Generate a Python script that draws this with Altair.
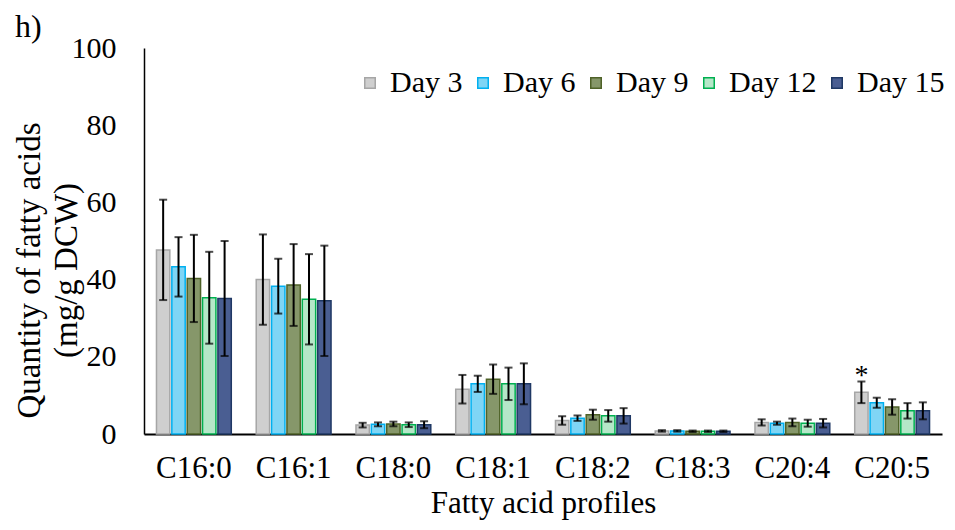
import altair as alt
import pandas as pd

fatty = ["C16:0", "C16:1", "C18:0", "C18:1", "C18:2", "C18:3", "C20:4", "C20:5"]
days = ["Day 3", "Day 6", "Day 9", "Day 12", "Day 15"]

day3 = [47.7, 40.0, 2.3, 11.6, 3.5, 0.8, 3.0, 10.8]
day6 = [43.3, 38.3, 2.5, 13.0, 4.1, 0.8, 2.8, 8.1]
day9 = [40.3, 38.6, 2.6, 14.2, 5.0, 0.7, 3.0, 7.0]
day12 = [35.3, 34.9, 2.4, 13.0, 4.7, 0.7, 2.8, 6.0]
day15 = [35.1, 34.5, 2.4, 13.0, 4.7, 0.7, 2.8, 6.0]

err3 = [13.0, 11.7, 0.6, 3.7, 1.1, 0.2, 0.8, 2.8]
err6 = [7.7, 7.1, 0.5, 2.1, 0.7, 0.2, 0.4, 1.3]
err9 = [11.3, 10.6, 0.6, 3.8, 1.3, 0.2, 1.0, 2.0]
err12 = [11.9, 11.7, 0.6, 4.2, 1.5, 0.2, 0.9, 2.0]
err15 = [14.9, 14.3, 0.9, 5.3, 2.0, 0.2, 1.1, 2.2]

star_acid = ["C20:5"]
star_day = ["Day 3"]
star_text = ["*"]

fills = ["#cfcfcf", "#7fd5f5", "#86976a", "#b5e7c8", "#4a5e92"]
strokes = ["#a6a6a6", "#00b0f0", "#4f6228", "#00b050", "#1f3864"]

means = [day3, day6, day9, day12, day15]
errs = [err3, err6, err9, err12, err15]
rows = []
for d, m, e in zip(days, means, errs):
    for a, v, s in zip(fatty, m, e):
        rows.append({"acid": a, "day": d, "value": v, "lo": v - s, "hi": v + s})
df = pd.DataFrame(rows)

star_df = df[df["acid"].isin(star_acid) & df["day"].isin(star_day)].copy()
star_df["label"] = star_text

FONT = "Liberation Serif"

x_enc = alt.X(
    "acid:N",
    sort=fatty,
    scale=alt.Scale(paddingInner=0.25, paddingOuter=0.125),
    axis=alt.Axis(
        title="Fatty acid profiles",
        labelAngle=0,
        ticks=False,
        domainColor="black",
        domainWidth=2,
        labelFont=FONT,
        labelFontSize=31,
        labelColor="black",
        labelPadding=19,
        titleFont=FONT,
        titleFontSize=31,
        titleFontWeight="normal",
        titleColor="black",
        titlePadding=5,
    ),
)
xo_enc = alt.XOffset("day:N", sort=days, scale=alt.Scale(paddingInner=0.13))

y_axis = alt.Axis(
    values=[0, 20, 40, 60, 80, 100],
    grid=False,
    ticks=False,
    domainColor="black",
    domainWidth=1.5,
    labelFont=FONT,
    labelFontSize=30,
    labelColor="black",
    labelPadding=28,
    title=["Quantity of fatty acids", "(mg/g DCW)"],
    titleFont=FONT,
    titleFontSize=33,
    titleFontWeight="normal",
    titleColor="black",
    titleLineHeight=37,
    titleBaseline="top",
    titleX=-131,
    titleY=222,
)

base = alt.Chart(df).encode(x=x_enc, xOffset=xo_enc)

bars = base.mark_bar(strokeWidth=1.5).encode(
    y=alt.Y("value:Q", scale=alt.Scale(domain=[0, 100]), axis=y_axis),
    fill=alt.Fill(
        "day:N",
        sort=days,
        scale=alt.Scale(domain=days, range=fills),
        legend=alt.Legend(
            title=None,
            orient="none",
            direction="horizontal",
            legendX=211,
            legendY=20,
            symbolType="square",
            symbolSize=110,
            symbolStrokeWidth=1.5,
            labelFont=FONT,
            labelFontSize=30,
            labelColor="black",
            labelOffset=5,
            columnPadding=5,
            padding=0,
        ),
    ),
    stroke=alt.Stroke("day:N", sort=days, scale=alt.Scale(domain=days, range=strokes)),
)

rules = base.mark_rule(color="black", strokeWidth=2).encode(
    y=alt.Y("lo:Q"), y2="hi:Q"
)
cap_hi = base.mark_tick(color="black", thickness=2, size=8).encode(y=alt.Y("hi:Q"))
cap_lo = base.mark_tick(color="black", thickness=2, size=8).encode(y=alt.Y("lo:Q"))

star = alt.Chart(star_df).mark_text(
    font=FONT, fontSize=28, color="black", baseline="alphabetic", dy=2
).encode(
    x=alt.X("acid:N", sort=fatty),
    xOffset=alt.XOffset("day:N", sort=days),
    y=alt.Y("hi:Q"),
    text="label:N",
)

chart = (
    alt.layer(bars, rules, cap_hi, cap_lo, star)
    .properties(
        width=798,
        height=386,
        autosize="none",
        padding={"left": 136, "top": 40, "right": 5, "bottom": 88},
        title=alt.TitleParams(
            text="h)",
            anchor="start",
            frame="group",
            font=FONT,
            fontSize=32,
            fontWeight="normal",
            color="black",
            dx=-129,
            dy=15,
            offset=4,
        ),
    )
    .configure_view(stroke=None)
)

chart.save("out.html", embed_options={"renderer": "svg", "actions": False})
